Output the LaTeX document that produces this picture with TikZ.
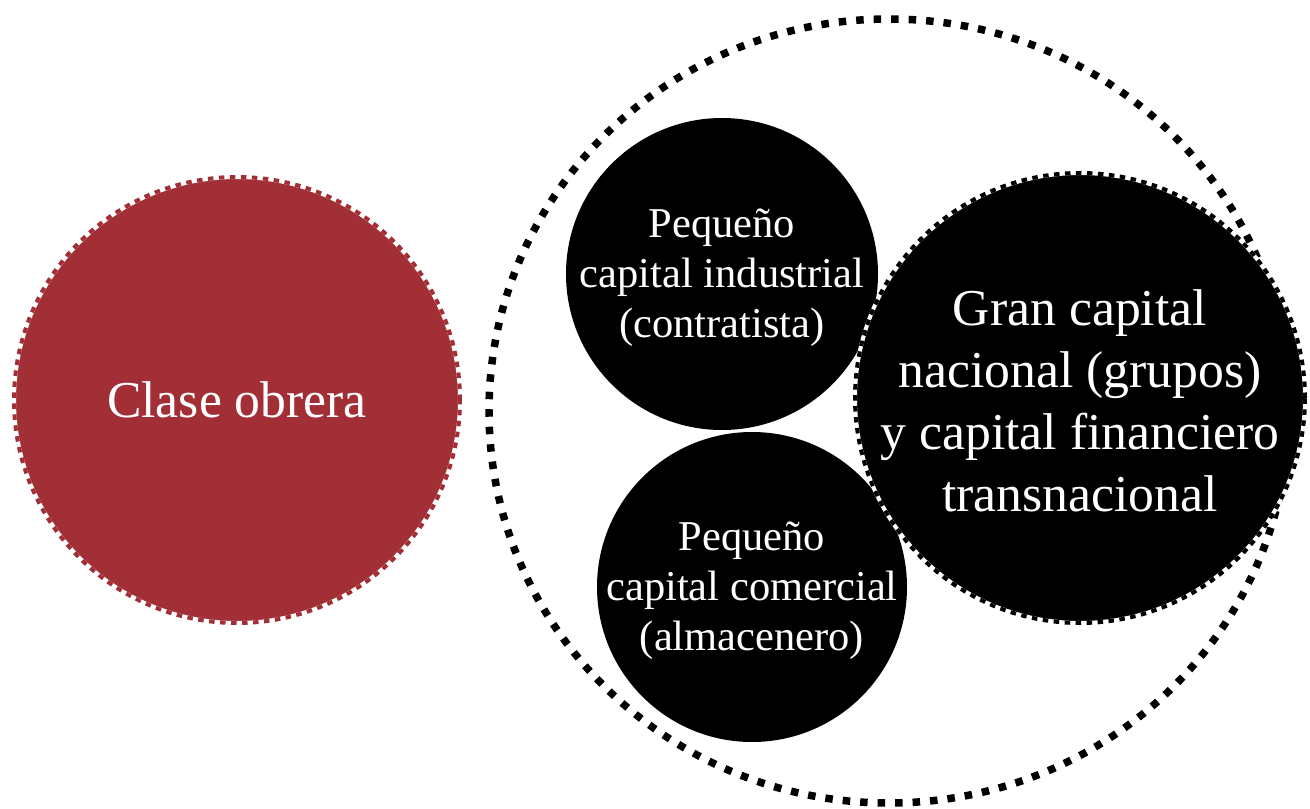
\documentclass[tikz,border=0pt]{standalone}
\usepackage{fontspec}
\setmainfont{Liberation Serif}
\usetikzlibrary{shapes.geometric}
\definecolor{obrera}{RGB}{161,47,53}
\tikzset{
  disc/.style={circle, inner sep=0pt, outer sep=0pt, minimum size=#1},
  toothed/.style={fill=#1,
    postaction={draw=white, line width=4pt},
    postaction={draw=#1, line width=4pt, dash pattern=on 5.5pt off 5.5pt}},
  plain/.style={fill=black},
  dotted ring/.style={ellipse, inner sep=0pt, draw=black, line width=7.5pt, dash pattern=on 7.5pt off 10pt},
  smalltxt/.style={text=white, align=center, inner sep=0pt, font=\fontsize{42.5}{50}\selectfont},
  bigtxt/.style={text=white, align=center, inner sep=0pt, font=\fontsize{51.7}{62}\selectfont}
}
\begin{document}
\begin{tikzpicture}[x=1pt, y=-1pt]
\useasboundingbox (0,0) rectangle (1310,809);
% outer dotted ring
\node[dotted ring, minimum width=800pt, minimum height=784pt] (ring) at (889,411) {};
% left red circle
\node[disc=446pt, toothed=obrera] (obrera) at (237,400) {};
\node[bigtxt] (tobrera) at (obrera.center) {Clase obrera};
% small circles
\node[disc=312pt, plain] (industrial) at (722,274) {};
\node[smalltxt] (tindustrial) at ([yshift=-4pt]industrial.center) {Pequeño\\capital industrial\\(contratista)};
\node[disc=310pt, plain] (comercial) at (752,587) {};
\node[smalltxt] (tcomercial) at ([yshift=-4pt]comercial.center) {Pequeño\\capital comercial\\(almacenero)};
% big black circle
\node[disc=450pt, toothed=black] (gran) at (1080,398) {};
\node[bigtxt] (tgran) at ([yshift=-3pt]gran.center) {Gran capital\\nacional (grupos)\\y capital financiero\\transnacional};
\end{tikzpicture}
\end{document}
